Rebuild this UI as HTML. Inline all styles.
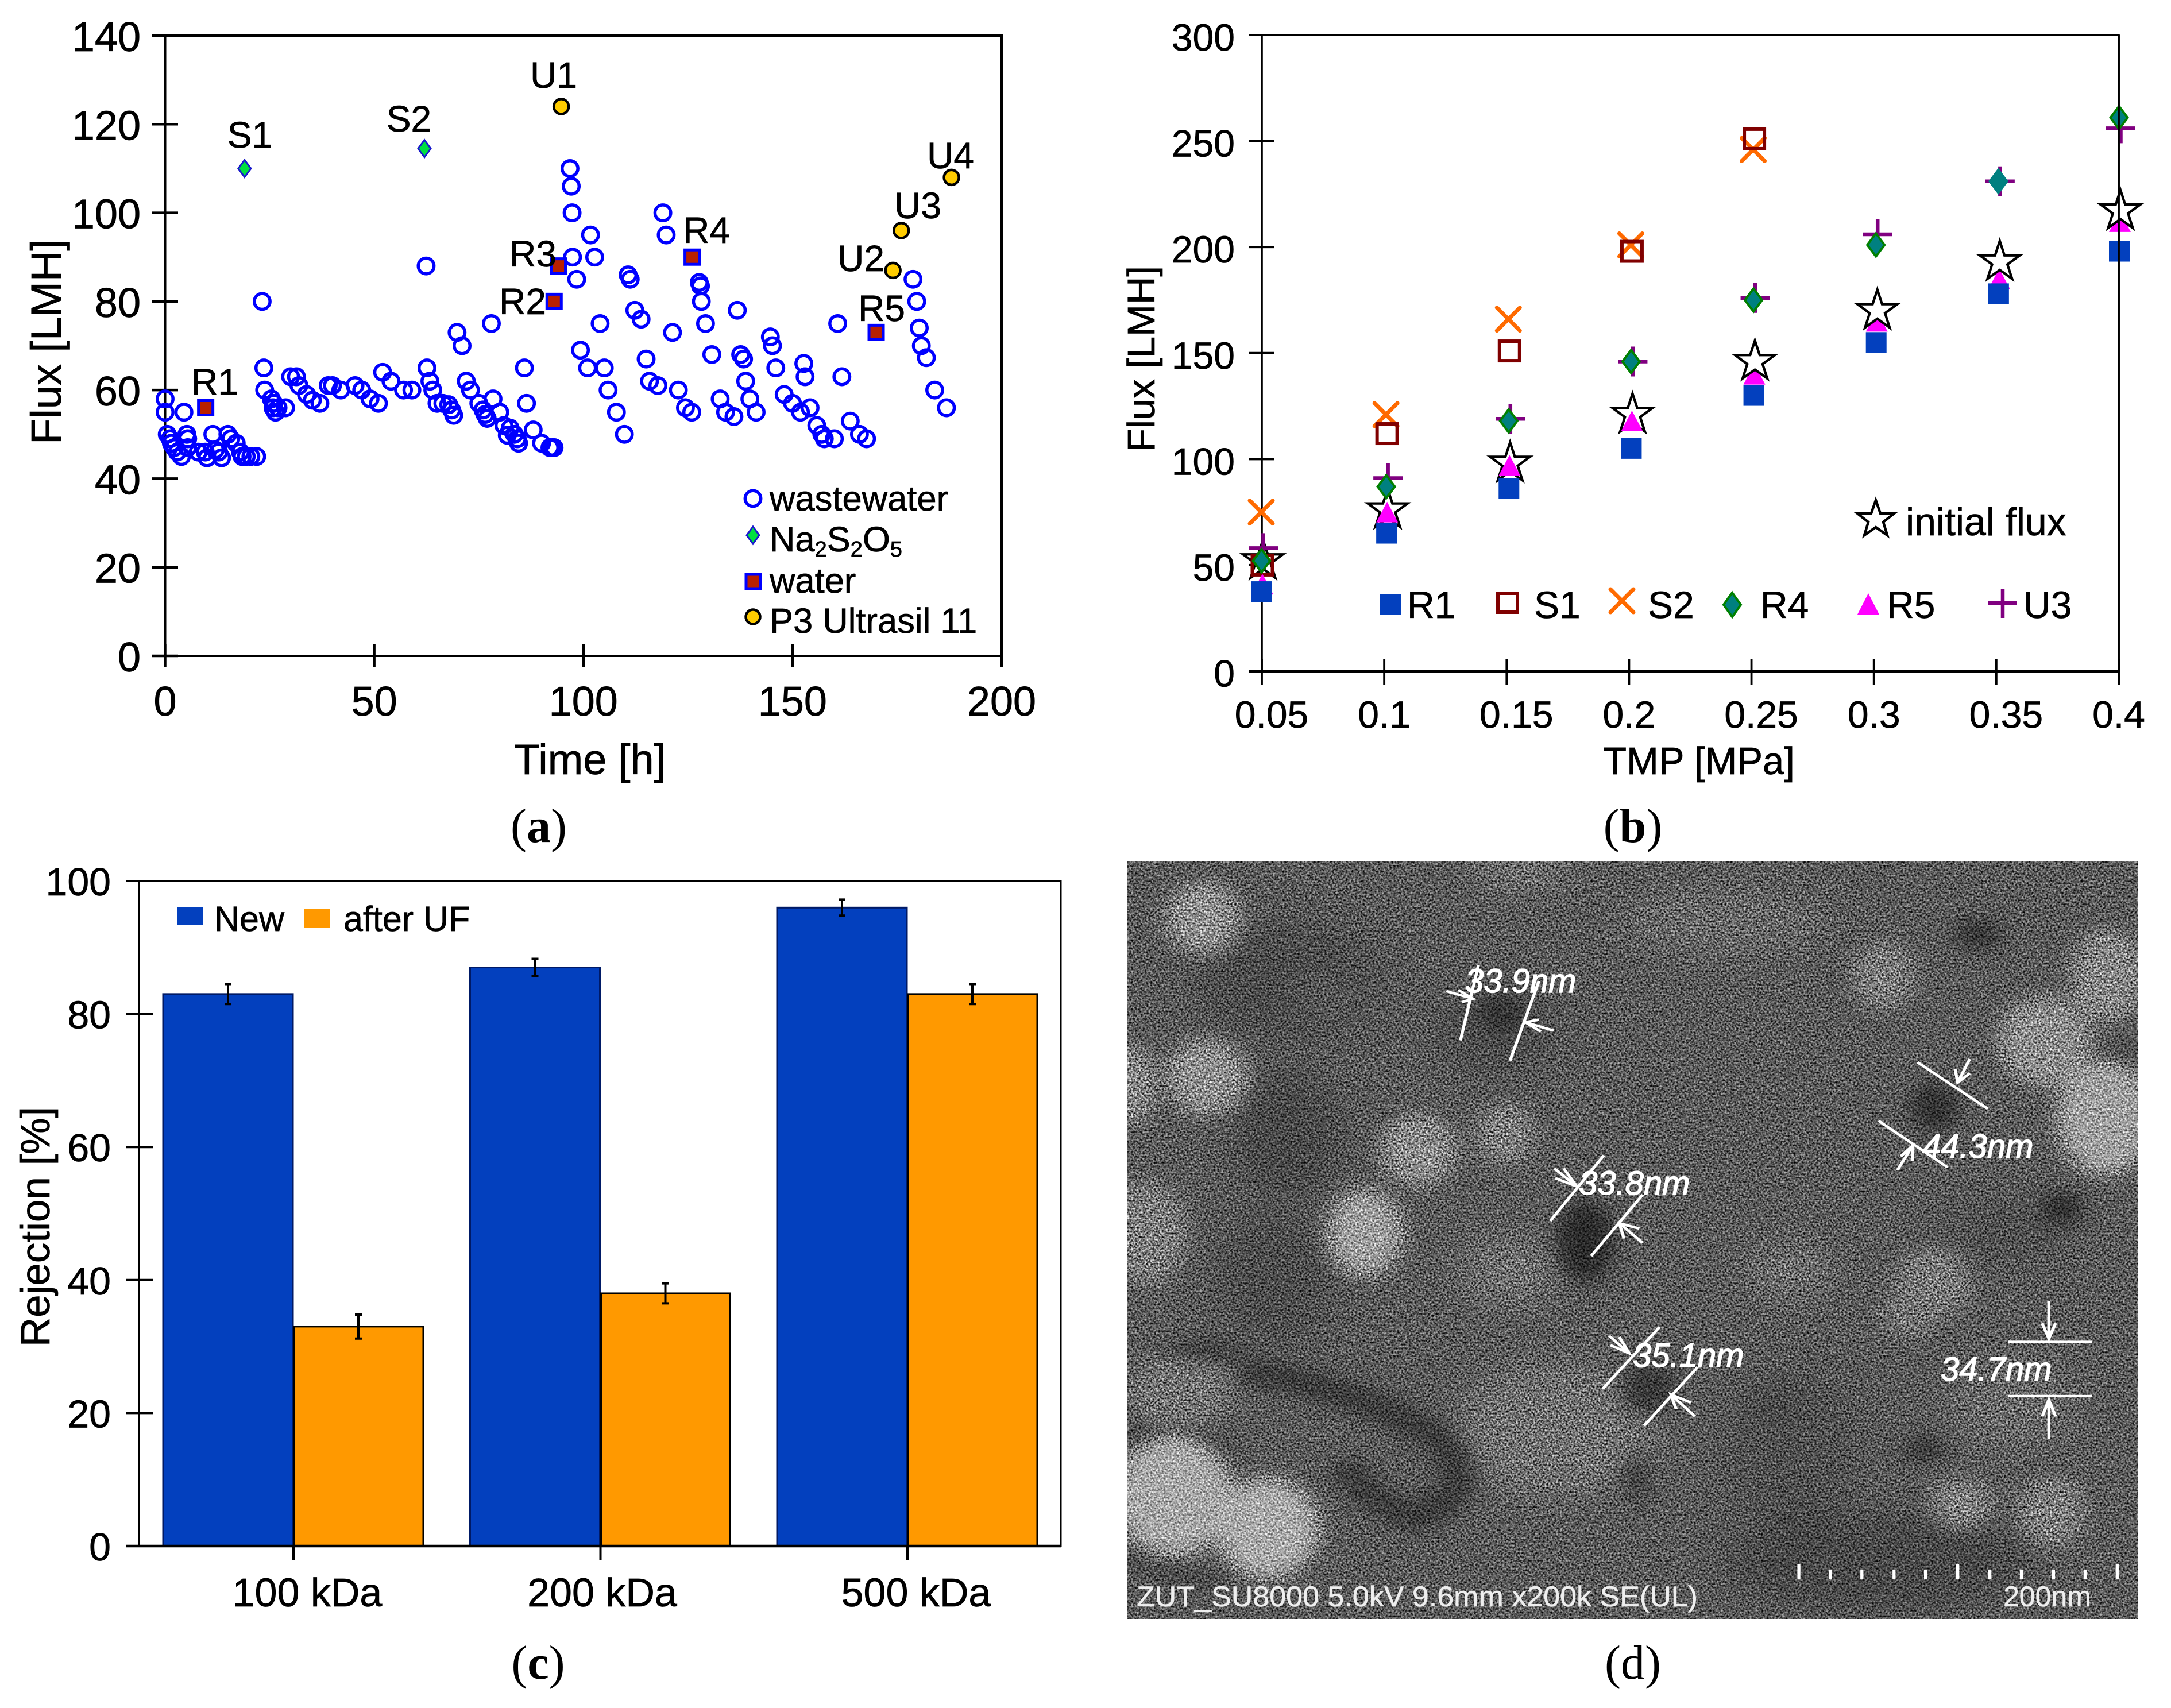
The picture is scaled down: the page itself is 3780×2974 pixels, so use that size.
<!DOCTYPE html>
<html lang="en">
<head>
<meta charset="utf-8">
<title>Membrane flux, rejection and SEM figure</title>
<style>
html,body{margin:0;padding:0;background:#fff;width:3780px;height:2974px;overflow:hidden}
svg{display:block}
text{font-family:"Liberation Sans",Arial,sans-serif;fill:#000;stroke:#000;stroke-width:.7px}
.cap{font-family:"Liberation Serif",serif;font-size:84px;stroke:none}
.cap tspan{font-weight:bold}
.sem{fill:#fff;stroke:#fff;stroke-width:1.4px;font-style:italic;font-size:58px}
.semb{fill:#eee;stroke:#eee;stroke-width:.5px;font-size:50px}
</style>
</head>
<body>
<svg id="figure" xmlns="http://www.w3.org/2000/svg" width="3780" height="2974" viewBox="0 0 3780 2974">
<defs>
<filter id="b14" x="-60%" y="-60%" width="220%" height="220%"><feGaussianBlur stdDeviation="15"/></filter>
<filter id="b24" x="-60%" y="-60%" width="220%" height="220%"><feGaussianBlur stdDeviation="26"/></filter>
<filter id="noise" x="0" y="0" width="100%" height="100%" color-interpolation-filters="sRGB">
<feTurbulence type="fractalNoise" baseFrequency="0.3" numOctaves="2" seed="7"/>
<feColorMatrix values="1.8 0 0 0 -0.4  1.8 0 0 0 -0.4  1.8 0 0 0 -0.4  0 0 0 0 1"/>
</filter>
<clipPath id="semClip"><rect x="1962" y="1499" width="1760" height="1320"/></clipPath>
</defs>
<rect width="3780" height="2974" fill="#fff"/>

<!-- PANEL A -->
<g id="panelA">
<rect x="287.5" y="62" width="1456.5" height="1080" fill="none" stroke="#000" stroke-width="4"/>
<g id="axesA"></g>
<text transform="translate(106,595) rotate(-90)" text-anchor="middle" font-size="74">Flux [LMH]</text>
<text x="1027" y="1348" text-anchor="middle" font-size="74">Time [h]</text>
<g id="marksA"></g>
<g font-size="64" text-anchor="middle">
<text x="435" y="257">S1</text>
<text x="712" y="229">S2</text>
<text x="964" y="153">U1</text>
<text x="1499" y="472">U2</text>
<text x="1598" y="380">U3</text>
<text x="1655" y="293">U4</text>
<text x="374" y="687">R1</text>
<text x="910" y="547">R2</text>
<text x="928" y="464">R3</text>
<text x="1230" y="423">R4</text>
<text x="1535" y="559">R5</text>
</g>
<g font-size="61.5">
<circle cx="1311" cy="868" r="13.7" fill="none" stroke="#0000ff" stroke-width="5.5"/>
<text x="1340" y="889">wastewater</text>
<polygon points="1311,917 1322,932 1311,947 1300,932" fill="#00e040" stroke="#1a1acc" stroke-width="3"/>
<text x="1340" y="960">Na<tspan font-size="38" dy="9">2</tspan><tspan dy="-9">S</tspan><tspan font-size="38" dy="9">2</tspan><tspan dy="-9">O</tspan><tspan font-size="38" dy="9">5</tspan></text>
<rect x="1299" y="1000" width="25" height="25" fill="#b92000" stroke="#0000ff" stroke-width="5"/>
<text x="1340" y="1032">water</text>
<circle cx="1311" cy="1074" r="12.5" fill="#ffcc00" stroke="#000" stroke-width="4.5"/>
<text x="1340" y="1102">P3 Ultrasil 11</text>
</g>
<text class="cap" x="938" y="1466" text-anchor="middle">(<tspan>a</tspan>)</text>
</g>

<!-- PANEL B -->
<g id="panelB">
<rect x="2197" y="61" width="1492" height="1107.5" fill="none" stroke="#000" stroke-width="3.6"/>
<g id="axesB"></g>
<text transform="translate(2010,625) rotate(-90)" text-anchor="middle" font-size="67">Flux [LMH]</text>
<text x="2958" y="1348" text-anchor="middle" font-size="67">TMP [MPa]</text>
<g id="marksB"></g>
<line x1="3689" x2="3689" y1="61" y2="1193" stroke="#000" stroke-width="3.8"/>
<g font-size="66">
<polygon points="3266,871 3274,894 3298,894 3279,909 3286,932 3266,918 3246,932 3253,909 3234,894 3258,894" fill="#fff" stroke="#000" stroke-width="4.5"/>
<text x="3318" y="932" font-size="68">initial flux</text>
<rect x="2403" y="1034" width="36" height="36" fill="#0340be"/>
<text x="2450" y="1076">R1</text>
<rect x="2608" y="1033" width="34" height="33" fill="none" stroke="#800000" stroke-width="6"/>
<text x="2671" y="1076">S1</text>
<path d="M2804,1026L2844,1066M2844,1026L2804,1066" stroke="#ff6a00" stroke-width="7" stroke-linecap="round" fill="none"/>
<text x="2869" y="1076">S2</text>
<polygon points="3016,1032 3031,1053 3016,1074 3001,1053" fill="#008080" stroke="#008000" stroke-width="4"/>
<text x="3065" y="1076">R4</text>
<polygon points="3253,1033 3272,1070 3234,1070" fill="#ff00ff"/>
<text x="3285" y="1076">R5</text>
<path d="M3461,1050H3511M3487,1025V1076" stroke="#800080" stroke-width="6.5" fill="none"/>
<text x="3523" y="1076">U3</text>
</g>
<text class="cap" x="2843" y="1466" text-anchor="middle">(<tspan>b</tspan>)</text>
</g>

<!-- PANEL C -->
<g id="panelC">
<rect x="242.5" y="1534" width="1604.5" height="1158" fill="none" stroke="#000" stroke-width="3"/>
<g id="marksC"></g>
<g id="axesC"></g>
<text transform="translate(86,2136) rotate(-90)" text-anchor="middle" font-size="71">Rejection [%]</text>
<g font-size="61">
<rect x="308" y="1580" width="46" height="31" fill="#0340be"/>
<text x="373" y="1621">New</text>
<rect x="529" y="1583" width="46" height="32" fill="#ff9900"/>
<text x="598" y="1621">after UF</text>
</g>
<text class="cap" x="937" y="2923" text-anchor="middle">(<tspan>c</tspan>)</text>
</g>

<!-- PANEL D -->
<g id="panelD">
<g clip-path="url(#semClip)" style="isolation:isolate">
<rect x="1962" y="1499" width="1760" height="1320" fill="#5a5a5a"/>
<g transform="translate(1950,1480) scale(1.1669,0.9528)">
<g filter="url(#b24)" fill="#6e6e6e">
<ellipse cx="650" cy="1060" rx="150" ry="120" fill="#707070"/>
<ellipse cx="580" cy="770" rx="70" ry="60"/>
<ellipse cx="1000" cy="770" rx="60" ry="45"/>
<ellipse cx="90" cy="990" rx="80" ry="60"/>
<ellipse cx="305" cy="265" rx="45" ry="40"/>
<ellipse cx="600" cy="30" rx="70" ry="45"/>
<ellipse cx="900" cy="130" rx="150" ry="60" fill="#686868"/>
<ellipse cx="1330" cy="1010" rx="90" ry="80" fill="#696969"/>
</g>
<g filter="url(#b24)" fill="#383838">
<ellipse cx="250" cy="240" rx="140" ry="110" opacity=".4"/>
<ellipse cx="250" cy="520" rx="80" ry="120" opacity=".55"/>
<ellipse cx="230" cy="780" rx="90" ry="120" opacity=".4"/>
<ellipse cx="1000" cy="1100" rx="100" ry="150" opacity=".35"/>
<ellipse cx="1130" cy="1300" rx="230" ry="90" opacity=".45"/>
<ellipse cx="1320" cy="700" rx="90" ry="60" opacity=".3"/>
<ellipse cx="560" cy="330" rx="90" ry="80" opacity=".4"/>
</g>
<g filter="url(#b14)" fill="#2a2a2a">
<ellipse cx="570" cy="300" rx="32" ry="34" fill="#333"/>
<ellipse cx="695" cy="715" rx="42" ry="75"/>
<ellipse cx="1215" cy="470" rx="36" ry="46" fill="#303030"/>
<ellipse cx="790" cy="985" rx="40" ry="46" fill="#383838"/>
<ellipse cx="770" cy="1150" rx="18" ry="45" fill="#3c3c3c"/>
<ellipse cx="1280" cy="155" rx="36" ry="28" fill="#363636"/>
<ellipse cx="1405" cy="655" rx="30" ry="30" fill="#2e2e2e"/>
<ellipse cx="1200" cy="1095" rx="30" ry="22" fill="#363636"/>
<ellipse cx="975" cy="1015" rx="16" ry="12" fill="#3c3c3c"/>
<ellipse cx="125" cy="915" rx="60" ry="12" fill="#303030"/>
<path d="M180,950 Q340,980 470,1070 Q550,1170 440,1220 Q370,1190 330,1120" fill="none" stroke="#3a3a3a" stroke-width="50"/>
<path d="M0,1070 Q90,1060 170,1100" fill="none" stroke="#3a3a3a" stroke-width="20"/>
<path d="M0,1280 Q60,1340 160,1330" fill="none" stroke="#404040" stroke-width="20"/>
<path d="M1430,410 L1519,360" fill="none" stroke="#404040" stroke-width="18"/>
</g>
<g filter="url(#b14)" fill="#8e8e8e">
<ellipse cx="125" cy="125" rx="56" ry="66"/>
<ellipse cx="130" cy="415" rx="60" ry="70"/>
<ellipse cx="15" cy="430" rx="38" ry="75" fill="#868686"/>
<ellipse cx="445" cy="550" rx="56" ry="66" fill="#8a8a8a"/>
<ellipse cx="575" cy="520" rx="42" ry="56" fill="#7e7e7e"/>
<ellipse cx="365" cy="700" rx="56" ry="80" fill="#9e9e9e"/>
<ellipse cx="40" cy="700" rx="60" ry="95" fill="#7c7c7c"/>
<ellipse cx="80" cy="1180" rx="88" ry="110" fill="#a8a8a8"/>
<ellipse cx="220" cy="1240" rx="76" ry="92" fill="#aaaaaa"/>
<ellipse cx="1380" cy="350" rx="70" ry="83" fill="#8c8c8c"/>
<ellipse cx="1475" cy="230" rx="55" ry="85" fill="#868686"/>
<ellipse cx="1470" cy="490" rx="72" ry="105" fill="#a0a0a0"/>
<ellipse cx="1140" cy="230" rx="46" ry="62" fill="#7a7a7a"/>
<ellipse cx="1215" cy="790" rx="56" ry="62" fill="#787878"/>
<ellipse cx="1180" cy="850" rx="45" ry="40" fill="#727272"/>
<ellipse cx="1255" cy="1195" rx="46" ry="46" fill="#7e7e7e"/>
<ellipse cx="1390" cy="1210" rx="50" ry="66" fill="#7c7c7c"/>
<ellipse cx="85" cy="990" rx="70" ry="55" fill="#727272"/>
</g>
</g>
<rect x="1962" y="1499" width="1760" height="1320" filter="url(#noise)" style="mix-blend-mode:overlay"/>
<g transform="translate(1950,1480) scale(1.1669,0.9528)">
<g stroke="#fff" fill="none" stroke-width="4.5">
<path d="M535,210L508,348M625,240L582,385M487,258L527,272M505,256L527,272L510,278M647,330L605,315M625,310L605,315L628,332"/>
<path d="M722,558L642,678M780,630L703,742M648,582L682,615M662,582L682,615L650,600M780,718L745,682M752,710L745,682L775,692"/>
<path d="M1190,388L1295,473M1132,495L1235,580M1268,382L1250,425M1246,400L1250,425L1268,408M1160,585L1183,540M1165,560L1183,540L1182,568"/>
<path d="M805,872L720,985M862,945L782,1052M730,888L760,920M745,890L760,920L732,905M858,1035L822,995M830,1022L822,995L852,1010"/>
<path d="M1325,899H1450M1325,998H1450M1386,825V893M1376,865L1386,893L1396,865M1386,1077V1005M1376,1035L1386,1005L1396,1035"/>
<path stroke-width="4.5" d="M1013,1305V1333M1060,1315V1333M1107,1315V1333M1155,1315V1333M1202,1315V1333M1250,1305V1333M1298,1315V1333M1345,1315V1333M1393,1315V1333M1440,1315V1333M1488,1305V1333"/>
</g>
</g>
<text class="sem" x="2551" y="1728">33.9nm</text>
<text class="sem" x="2749" y="2080">33.8nm</text>
<text class="sem" x="3347" y="2016">44.3nm</text>
<text class="sem" x="2843" y="2380">35.1nm</text>
<text class="sem" x="3379" y="2404">34.7nm</text>
<text class="semb" x="1979" y="2797" textLength="977" lengthAdjust="spacingAndGlyphs">ZUT_SU8000 5.0kV 9.6mm x200k SE(UL)</text>
<text class="semb" x="3488" y="2797">200nm</text>
</g>
<text class="cap" x="2843" y="2923" text-anchor="middle">(d)</text>
</g>
</svg>
<script>
// ===== Panel (a) data =====
const wastewaterTimes = [0,0,4.5,0.5,1.2,1.5,2.2,2.9,3.9,5.2,5.4,5.4,7.9,9.6,10,11.4,12,12.8,13.5,15,15.7,17,18,18.4,19.4,20.5,21.9,23.2,23.6,23.8,25.4,26,25.8,26.4,27,28.8,30,31.4,32,33.8,35.2,37,39,40,42,45.4,47,49,51,52,54,57,59,62.4,62.6,63.3,64,65,66.4,67.8,68.5,69,69.8,71,72,73,75,76,76.5,77,78,78.4,80,81,82.5,81.8,83.5,84.2,84.5,85.9,86.4,88,90,92,92.6,93,96.8,97.1,97.3,97.4,98.4,99.3,101,101.7,102.7,104,105,105.9,107.9,109.8,110.7,111.2,112.3,113.8,115,115.8,117.8,119,119.8,121.3,122.7,124.4,125.9,127.7,128,128.2,129.2,130.7,132.7,134,136,136.8,137.6,138.3,138.8,139.8,141.3,144.7,145.2,146,148,150,151.9,152.7,153,154.2,155.8,157,157.6,160,160.8,161.8,163.8,166,167.7,178.8,179.7,180.3,180.8,182,184,186.8];
const wastewaterFlux = [58,55,55,50,49,48,47,46,45,50,49,47,46,46,44.7,50,46.5,46,44.7,50,49,48,46,45,45,45,45,80,65,60,58,57,56,55,56,56,63,63,61,59,57.7,57,61,61,60,61,60,58,57,64,62,60,60,88,65,62,60,57,57,56.7,55.5,54.3,73,70,62,60,57,55.5,54.5,53.6,75,58,55,52,51.4,49.8,50,49,48,65,57,51,48,47,47,47,110,106,100,90,85,69,65,95,90,75,65,60,55,50,86,85,78,76,67,62,61,100,95,73,60,56,55,84.3,83.5,80,75,68,58,55,54,78,68,67,62,58,55,72,70,65,59,57,55,66,63,56,52,50,49,49,75,63,53,50,49,85,80,74,70,67.3,60,56];
const waterTimes = [9.7,93,94,126,170];
const waterFlux = [56,80,88,90,73];
const sulfiteTimes = [19,62];
const sulfiteFlux = [110,114.5];
const ultrasilTimes = [94.7,174,176,188];
const ultrasilFlux = [124,87,96,108];
const timeTicks = [0,50,100,150,200];
const fluxTicksA = [0,20,40,60,80,100,120,140];

// ===== Panel (b) data =====
const tmpValues = [0.05,0.1,0.15,0.2,0.25,0.3,0.35,0.4];
const tmpTickLabels = ['0.05','0.1','0.15','0.2','0.25','0.3','0.35','0.4'];
const fluxTicksB = [0,50,100,150,200,250,300];
const seriesR1 = [37.5,65,86,105,130,155,178,198];
const seriesS1 = [50,112,151,198,251];
const seriesS2 = [75,121,166,201,246];
const seriesR4 = [52,87,118,146,175,201,231,261];
const seriesR5 = [41,75,97,118,140,165,185,212];
const seriesU3 = [58,91,119,146,176,206,231,256];
const seriesInitial = [52,76,98,121,146,170,193,217];

// ===== Panel (c) data =====
const poreSizes = ['100 kDa','200 kDa','500 kDa'];
const rejectionNew = [83,87,96];
const rejectionAfter = [33,38,83];
const errorNew = [1.5,1.3,1.2];
const errorAfter = [1.8,1.5,1.5];
const rejectionTicks = [0,20,40,60,80,100];

const SVG_NS = 'http://www.w3.org/2000/svg';
function mk(parent, tag, attrs, txt) {
  const el = document.createElementNS(SVG_NS, tag);
  for (const k in attrs) el.setAttribute(k, attrs[k]);
  if (txt !== undefined) el.textContent = txt;
  parent.appendChild(el);
  return el;
}
// axis functions
const xA = t => 287.5 + t * (1744 - 287.5) / 200;
const yA = v => 1142 - v * (1142 - 62) / 140;
const xB = p => 2197 + (p - 0.05) * 1492 / 0.35;
const yB = v => 1168.5 - v * (1168.5 - 61) / 300;
const xC = i => 511 + i * 534.5;
const yC = v => 2692 - v * 11.58;
// markers sit slightly right of their tick in panel (b), except the first and last columns
const xM = (p, d) => xB(p) + (p === tmpValues[0] ? d - 4 : (p === tmpValues[tmpValues.length - 1] ? d - 3 : d));

// ---------- Panel A axes ----------
const axesA = document.getElementById('axesA');
const marksA = document.getElementById('marksA');
fluxTicksA.forEach(v => {
  const t = mk(axesA, 'line', {x1: 265, x2: 310, y1: yA(v), y2: yA(v), stroke: '#000', 'stroke-width': 4.5});
  
  
  const l = mk(axesA, 'text', {x: 245, y: yA(v) + 27, 'text-anchor': 'end', 'font-size': 72}, String(v));
  
  
});
timeTicks.forEach(v => {
  const t = mk(axesA, 'line', {x1: xA(v), x2: xA(v), y1: 1122, y2: 1162, stroke: '#000', 'stroke-width': 4.5});
  
  
  const l = mk(axesA, 'text', {x: xA(v), y: 1246, 'text-anchor': 'middle', 'font-size': 72}, String(v));
  
  
});
// ---------- Panel A marks ----------
wastewaterFlux.forEach((v, i) => {
  const el = mk(marksA, 'circle', {cx: xA(wastewaterTimes[i]), cy: yA(v), r: 13.7, fill: 'none', stroke: '#0000ff', 'stroke-width': 5.5});
  
  
});
sulfiteFlux.forEach((v, i) => {
  const x = xA(sulfiteTimes[i]), y = yA(v);
  const el = mk(marksA, 'polygon', {points: `${x},${y-15} ${x+11},${y} ${x},${y+15} ${x-11},${y}`, fill: '#00e040', stroke: '#1a1acc', 'stroke-width': 3});
  
  
});
waterFlux.forEach((v, i) => {
  const el = mk(marksA, 'rect', {x: xA(waterTimes[i]) - 12.5, y: yA(v) - 12.5, width: 25, height: 25, fill: '#b92000', stroke: '#0000ff', 'stroke-width': 5});
  
  
});
ultrasilFlux.forEach((v, i) => {
  const el = mk(marksA, 'circle', {cx: xA(ultrasilTimes[i]), cy: yA(v), r: 13, fill: '#ffcc00', stroke: '#000', 'stroke-width': 4.5});
  
  
});

// ---------- Panel B axes ----------
const axesB = document.getElementById('axesB');
const marksB = document.getElementById('marksB');
const baseB = mk(axesB, 'line', {x1: 2174, x2: 3689, y1: yB(0), y2: yB(0), stroke: '#000', 'stroke-width': 5});


fluxTicksB.forEach(v => {
  const t = mk(axesB, 'line', {x1: 2175, x2: 2219, y1: yB(v), y2: yB(v), stroke: '#000', 'stroke-width': 4});
  
  
  const l = mk(axesB, 'text', {x: 2150, y: yB(v) + 27, 'text-anchor': 'end', 'font-size': 66}, String(v));
  
  
});
tmpValues.forEach((p, i) => {
  const t = mk(axesB, 'line', {x1: xB(p), x2: xB(p), y1: 1147, y2: 1193, stroke: '#000', 'stroke-width': 3.8});
  
  
  const label = tmpTickLabels[i];
  const l = mk(axesB, 'text', {x: xB(p) + (label.length === 4 ? 17 : 0), y: 1267, 'text-anchor': 'middle', 'font-size': 66}, label);
  
  
});
// ---------- Panel B marks (layer order follows the reference) ----------
seriesS2.forEach((v, i) => {
  const x = xM(tmpValues[i], 3), y = yB(v);
  const el = mk(marksB, 'path', {d: `M${x-20},${y-20}L${x+20},${y+20}M${x+20},${y-20}L${x-20},${y+20}`, stroke: '#ff6a00', 'stroke-width': 7, 'stroke-linecap': 'round', fill: 'none'});
  
  
});
function drawR5(v, i) {
  const x = xM(tmpValues[i], 5), y = yB(v);
  const el = mk(marksB, 'polygon', {points: `${x},${y-18} ${x+19},${y+18} ${x-19},${y+18}`, fill: '#ff00ff'});
  
  
}
seriesR5.forEach((v, i) => { if (i >= 4) drawR5(v, i); });
seriesInitial.forEach((v, i) => {
  const x = xM(tmpValues[i], 6), y = yB(v);
  const pts = [];
  for (let k = 0; k < 10; k++) {
    const r = k % 2 ? 14 : 36.5, a = -Math.PI / 2 + k * Math.PI / 5;
    pts.push((x + r * Math.cos(a)) + ',' + (y + r * Math.sin(a)));
  }
  const el = mk(marksB, 'polygon', {points: pts.join(' '), fill: '#fff', stroke: '#000', 'stroke-width': 4.3});
  
  
});
seriesS1.forEach((v, i) => {
  const x = xM(tmpValues[i], 5);
  const el = mk(marksB, 'rect', {x: x - 17.5, y: yB(v) - 17, width: 35, height: 34, fill: 'none', stroke: '#800000', 'stroke-width': 6});
  
  
});
seriesU3.forEach((v, i) => {
  const x = xM(tmpValues[i], 6.5), y = yB(v);
  const el = mk(marksB, 'path', {d: `M${x-25.5},${y}H${x+25.5}M${x},${y-26}V${y+26}`, stroke: '#800080', 'stroke-width': 6.5, fill: 'none'});
  
  
});
seriesR5.forEach((v, i) => { if (i < 4) drawR5(v, i); });
seriesR1.forEach((v, i) => {
  const el = mk(marksB, 'rect', {x: xM(tmpValues[i], 4) - 18, y: yB(v) - 18, width: 36, height: 36, fill: '#0340be'});
  
  
});
seriesR4.forEach((v, i) => {
  const x = xM(tmpValues[i], 3.5), y = yB(v);
  const el = mk(marksB, 'polygon', {points: `${x},${y-20} ${x+15},${y} ${x},${y+20} ${x-15},${y}`, fill: '#008080', stroke: i === 6 ? '#008080' : '#008000', 'stroke-width': 4});
  
  
});

// ---------- Panel C ----------
const axesC = document.getElementById('axesC');
const marksC = document.getElementById('marksC');
function errorPath(cx, v, e) {
  return `M${cx},${yC(v + e)}V${yC(v - e)}M${cx-6},${yC(v + e)}H${cx+6}M${cx-6},${yC(v - e)}H${cx+6}`;
}
rejectionNew.forEach((v, i) => {
  const b = mk(marksC, 'rect', {x: xC(i) - 227, y: yC(v), width: 226, height: yC(0) - yC(v), fill: '#0340be', stroke: '#001a66', 'stroke-width': 3});
  
  
});
rejectionAfter.forEach((v, i) => {
  const b = mk(marksC, 'rect', {x: xC(i) + 1, y: yC(v), width: 225, height: yC(0) - yC(v), fill: '#ff9900', stroke: '#000', 'stroke-width': 3});
  
  
});
rejectionNew.forEach((v, i) => {
  const e = mk(marksC, 'path', {d: errorPath(xC(i) - 114, v, errorNew[i]), stroke: '#000', 'stroke-width': 4, fill: 'none'});
  
  
});
rejectionAfter.forEach((v, i) => {
  const e = mk(marksC, 'path', {d: errorPath(xC(i) + 113, v, errorAfter[i]), stroke: '#000', 'stroke-width': 4, fill: 'none'});
  
  
});
const baseC = mk(axesC, 'line', {x1: 220, x2: 1847, y1: yC(0), y2: yC(0), stroke: '#000', 'stroke-width': 4.5});


rejectionTicks.forEach(v => {
  const t = mk(axesC, 'line', {x1: 220, x2: 267, y1: yC(v), y2: yC(v), stroke: '#000', 'stroke-width': 4});
  
  
  const l = mk(axesC, 'text', {x: 193, y: yC(v) + 25, 'text-anchor': 'end', 'font-size': 68}, String(v));
  
  
});
poreSizes.forEach((s, i) => {
  const t = mk(axesC, 'line', {x1: xC(i), x2: xC(i), y1: 2692, y2: 2716, stroke: '#000', 'stroke-width': 4});
  
  
  const nudge = i === 0 ? 24 : (i === 1 ? 3 : 15);
  const l = mk(axesC, 'text', {x: xC(i) + nudge, y: 2797, 'text-anchor': 'middle', 'font-size': 70}, s);
  
  
});
</script>
</body>
</html>
